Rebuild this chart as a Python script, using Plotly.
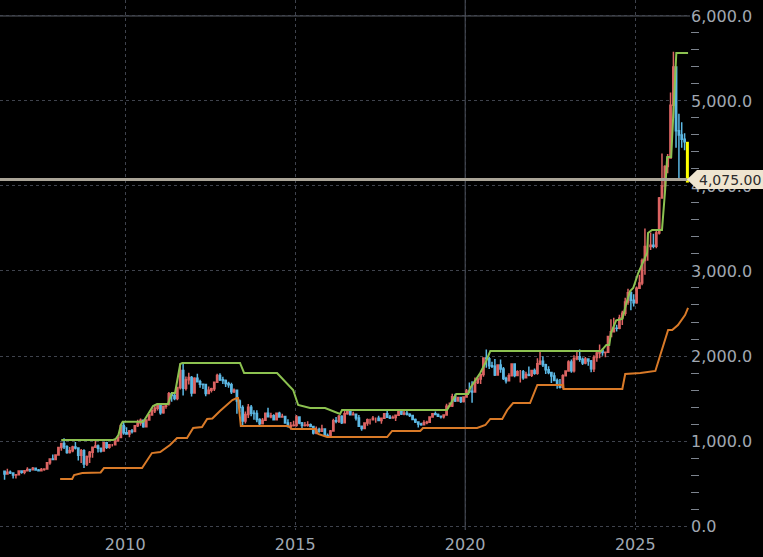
import pandas as pd
import plotly.graph_objects as go

# ---------------- DATA (monthly candles, Jun 2006 .. Jun 2026) ----------------
first_open = 643
close = [
    613, 632, 623, 599, 604, 646, 632,
    650, 665, 663, 680, 659, 650, 665, 672, 743, 789, 783, 834,
    923, 971, 933, 865, 885, 930, 918, 833, 884, 730, 815, 869,
    927, 942, 916, 883, 979, 927, 955, 955, 1001, 1040, 1182, 1096,
    1081, 1118, 1113, 1180, 1213, 1244, 1169, 1246, 1307, 1357, 1386, 1421,
    1332, 1410, 1439, 1556, 1536, 1500, 1628, 1828, 1620, 1722, 1746, 1566,
    1737, 1697, 1669, 1664, 1560, 1598, 1614, 1692, 1772, 1720, 1713, 1675,
    1663, 1578, 1597, 1472, 1393, 1234, 1312, 1396, 1327, 1323, 1253, 1202,
    1244, 1326, 1284, 1296, 1250, 1327, 1282, 1287, 1211, 1171, 1182, 1184,
    1283, 1213, 1183, 1184, 1190, 1172, 1095, 1134, 1115, 1142, 1065, 1061,
    1118, 1238, 1233, 1292, 1215, 1322, 1351, 1309, 1316, 1272, 1173, 1146,
    1211, 1249, 1249, 1268, 1268, 1242, 1269, 1321, 1280, 1271, 1275, 1303,
    1345, 1318, 1325, 1316, 1299, 1253, 1224, 1201, 1192, 1215, 1222, 1282,
    1321, 1313, 1292, 1284, 1305, 1409, 1413, 1520, 1472, 1513, 1464, 1517,
    1589, 1585, 1577, 1687, 1730, 1781, 1975, 1968, 1886, 1879, 1776, 1895,
    1847, 1734, 1708, 1769, 1907, 1770, 1814, 1814, 1743, 1783, 1774, 1829,
    1797, 1909, 1937, 1897, 1837, 1807, 1766, 1711, 1661, 1633, 1768, 1824,
    1928, 1827, 1969, 1990, 1962, 1919, 1965, 1940, 1849, 1983, 2036, 2063,
    2040, 2044, 2230, 2286, 2327, 2326, 2448, 2503, 2635, 2744, 2657, 2625,
    2798, 2858, 3124, 3289, 3289, 3303, 3290, 3448, 3858, 4000, 4230, 4330,
    4950, 5400, 4650, 4600, 4550, 4520,
]
high = [
    640, 675, 652, 633, 608, 648, 640,
    658, 690, 672, 693, 689, 672, 683, 677, 745, 795, 841, 837,
    933, 975, 1032, 950, 930, 943, 988, 915, 905, 904, 830, 881,
    936, 1006, 960, 914, 980, 990, 960, 966, 1024, 1070, 1195, 1227,
    1162, 1128, 1140, 1180, 1249, 1265, 1212, 1250, 1318, 1388, 1425, 1431,
    1424, 1412, 1447, 1575, 1577, 1556, 1632, 1913, 1920, 1760, 1804, 1764,
    1750, 1792, 1720, 1676, 1668, 1641, 1627, 1692, 1790, 1796, 1755, 1723,
    1696, 1684, 1617, 1600, 1488, 1420, 1348, 1434, 1424, 1361, 1362, 1267,
    1270, 1332, 1392, 1331, 1315, 1332, 1345, 1320, 1287, 1255, 1223, 1238,
    1307, 1290, 1224, 1224, 1232, 1205, 1175, 1170, 1157, 1191, 1142, 1088,
    1128, 1263, 1282, 1306, 1304, 1362, 1375, 1357, 1345, 1318, 1306, 1180,
    1220, 1264, 1261, 1295, 1275, 1296, 1270, 1326, 1357, 1306, 1299, 1306,
    1366, 1361, 1356, 1369, 1325, 1307, 1265, 1223, 1214, 1243, 1237, 1284,
    1326, 1347, 1324, 1300, 1306, 1439, 1452, 1555, 1557, 1518, 1516, 1525,
    1611, 1689, 1704, 1747, 1765, 1789, 1984, 2075, 1992, 1933, 1965, 1900,
    1959, 1872, 1755, 1798, 1916, 1905, 1832, 1834, 1834, 1814, 1877, 1831,
    1853, 1974, 2070, 1998, 1910, 1879, 1783, 1807, 1735, 1730, 1786, 1833,
    1949, 1959, 2009, 2048, 2077, 1983, 1987, 1950, 1953, 2009, 2052, 2135,
    2088, 2052, 2236, 2431, 2450, 2368, 2484, 2531, 2685, 2790, 2762, 2726,
    2817, 2956, 3148, 3500, 3435, 3452, 3439, 3489, 3871, 4381, 4245, 4375,
    5100, 5580, 5390, 4850, 4750, 4620,
]
low = [
    543, 606, 612, 560, 560, 612, 614,
    608, 646, 636, 663, 652, 642, 648, 650, 671, 722, 775, 774,
    835, 884, 905, 850, 853, 867, 900, 771, 740, 681, 705, 740,
    802, 920, 866, 865, 880, 905, 908, 935, 950, 991, 1040, 1075,
    1074, 1045, 1088, 1115, 1166, 1178, 1157, 1175, 1242, 1314, 1330, 1360,
    1308, 1322, 1380, 1417, 1462, 1478, 1480, 1605, 1534, 1593, 1665, 1523,
    1560, 1691, 1627, 1612, 1527, 1553, 1572, 1589, 1684, 1705, 1672, 1635,
    1626, 1554, 1564, 1321, 1338, 1180, 1207, 1270, 1290, 1251, 1221, 1182,
    1202, 1240, 1277, 1268, 1240, 1241, 1282, 1273, 1206, 1160, 1131, 1170,
    1168, 1198, 1142, 1170, 1169, 1163, 1077, 1080, 1098, 1114, 1052, 1046,
    1062, 1110, 1208, 1212, 1199, 1208, 1310, 1302, 1302, 1241, 1170, 1122,
    1146, 1180, 1195, 1241, 1214, 1236, 1204, 1266, 1271, 1260, 1264, 1236,
    1303, 1307, 1303, 1301, 1282, 1246, 1211, 1160, 1180, 1182, 1196, 1221,
    1276, 1310, 1281, 1266, 1266, 1296, 1400, 1400, 1459, 1461, 1446, 1454,
    1517, 1563, 1451, 1568, 1670, 1671, 1757, 1863, 1848, 1860, 1765, 1775,
    1802, 1717, 1677, 1755, 1765, 1750, 1761, 1687, 1721, 1746, 1761, 1753,
    1780, 1780, 1895, 1872, 1787, 1784, 1681, 1710, 1615, 1617, 1618, 1764,
    1823, 1804, 1805, 1950, 1932, 1893, 1903, 1885, 1810, 1811, 1931, 1973,
    2002, 1984, 2039, 2229, 2277, 2287, 2316, 2364, 2472, 2604, 2537, 2583,
    2614, 2833, 2833, 2957, 3121, 3247, 3268, 3268, 3430, 3886, 3930, 4150,
    4330, 4800, 4450, 4090, 4450, 4420,
]
# current (last) bar, drawn in yellow
last_date = "2026-07-15"
last_open, last_low, last_price = 4520, 4040, 4075

# upper band (2-year highest high) breakpoints
upper_dates = ["2008-02-14", "2009-08-25", "2009-09-20", "2009-10-20", "2009-11-18", "2009-12-05",
               "2010-07-15", "2010-08-08", "2010-10-27", "2010-12-10", "2011-04-05", "2011-05-18",
               "2011-06-20", "2011-08-15", "2011-09-06", "2013-05-18", "2013-07-01", "2014-06-20",
               "2014-12-10", "2015-02-02", "2015-06-10", "2015-11-18", "2016-04-27", "2016-05-18",
               "2019-06-20", "2019-09-27", "2020-02-02", "2020-02-25", "2020-06-10", "2020-08-05",
               "2020-09-27", "2024-01-01", "2024-02-25", "2024-03-28", "2024-04-15", "2024-06-10",
               "2024-08-15", "2024-09-27", "2024-11-07", "2024-12-10", "2025-02-02", "2025-05-08",
               "2025-05-18", "2025-07-01", "2025-10-15", "2025-11-18", "2025-12-10", "2026-01-22",
               "2026-02-14", "2026-03-18", "2026-07-22"]
upper_vals = [1012, 1012, 1024, 1070, 1195, 1227,
              1227, 1270, 1412, 1435, 1435, 1565,
              1565, 1906, 1918, 1918, 1800, 1800,
              1600, 1424, 1388, 1388, 1318, 1365,
              1365, 1553, 1553, 1624, 1800, 1918,
              2060, 2060, 2130, 2130, 2270, 2420,
              2435, 2620, 2765, 2800, 2976, 3212,
              3447, 3482, 3482, 3953, 4341, 4341,
              4929, 5565, 5565]

# lower band (2-year lowest low) breakpoints
lower_dates = ["2008-02-02", "2008-06-10", "2008-07-01", "2008-09-27", "2009-04-12", "2009-05-18",
               "2010-07-01", "2010-10-15", "2011-01-12", "2011-04-27", "2011-07-12", "2011-10-27",
               "2012-01-01", "2012-04-05", "2012-05-30", "2012-07-25", "2012-10-15", "2013-01-01",
               "2013-02-25", "2013-04-15", "2013-04-27", "2013-05-27", "2014-10-15", "2014-11-28",
               "2015-08-05", "2015-09-05", "2015-12-10", "2017-09-15", "2017-11-07", "2018-09-05",
               "2018-10-05", "2020-05-08", "2020-08-05", "2020-09-27", "2021-02-02", "2021-03-28",
               "2021-05-30", "2021-11-28", "2022-02-14", "2022-11-18", "2022-11-22", "2024-08-15",
               "2024-09-15", "2025-02-25", "2025-08-05", "2025-09-27", "2025-12-20", "2026-02-02",
               "2026-04-05", "2026-06-20", "2026-07-22"]
lower_vals = [553, 553, 600, 624, 630, 682,
              682, 858, 870, 953, 1035, 1035,
              1153, 1165, 1259, 1265, 1353, 1424,
              1482, 1506, 1506, 1176, 1176, 1141,
              1141, 1082, 1047, 1047, 1118, 1118,
              1153, 1153, 1188, 1259, 1259, 1365,
              1447, 1447, 1659, 1659, 1612, 1612,
              1788, 1800, 1824, 2012, 2306, 2306,
              2365, 2482, 2565]

year_ticks = ["2010-01-01", "2015-01-01", "2020-01-01", "2025-01-01"]

# ---------------- FIGURE ----------------
dates = pd.date_range("2006-06-01", periods=len(close), freq="MS") + pd.Timedelta(days=14)
opens = [first_open] + close[:-1]

RED = "#dc6462"
BLUE = "#5cb8e4"
GREEN = "#8cc150"
ORANGE = "#d97a28"
GRID = "#3f434d"
AXIS_TXT = "#a0a8b2"
FONT = "DejaVu Sans"

fig = go.Figure()
fig.add_trace(go.Candlestick(
    x=dates, open=opens, high=high, low=low, close=close,
    increasing=dict(line=dict(color=RED, width=1.5), fillcolor=RED),
    decreasing=dict(line=dict(color=BLUE, width=1.5), fillcolor=BLUE),
    whiskerwidth=0, showlegend=False, hoverinfo="skip",
))
fig.add_trace(go.Scatter(x=pd.to_datetime(lower_dates), y=lower_vals, mode="lines",
                         line=dict(color=ORANGE, width=2), showlegend=False, hoverinfo="skip"))
fig.add_trace(go.Scatter(x=pd.to_datetime(upper_dates), y=upper_vals, mode="lines",
                         line=dict(color=GREEN, width=2), showlegend=False, hoverinfo="skip"))
fig.add_trace(go.Scatter(x=[last_date, last_date], y=[last_open, last_low], mode="lines",
                         line=dict(color="#ffff00", width=3), showlegend=False, hoverinfo="skip"))

# price line and label
fig.add_shape(type="line", xref="paper", x0=0, x1=0.996, yref="y", y0=last_price, y1=last_price,
              line=dict(color="#aaa497", width=3), layer="above")
# solid 2020 line and top line
fig.add_shape(type="line", xref="x", x0="2020-01-01", x1="2020-01-01", yref="paper", y0=0, y1=1,
              line=dict(color="#4f5460", width=1), layer="below")
fig.add_shape(type="line", xref="paper", x0=0, x1=1, yref="y", y0=6000, y1=6000,
              line=dict(color="#5a5e66", width=1), layer="below")

W, H = 763, 557
ML, MR, MT, MB = 0, 73, 0, 27
pw = W - ML - MR
ylo, yhi = -47, 6188
ph = H - MT - MB
upp = (yhi - ylo) / ph  # data units per pixel
hh = 9.5 * upp
xa = (pw - 3) / pw
xb = (pw + 7) / pw
xc = (W - ML) / pw
path = (f"M {xa},{last_price} L {xb},{last_price + hh} L {xc},{last_price + hh} "
        f"L {xc},{last_price - hh} L {xb},{last_price - hh} Z")
fig.add_shape(type="path", xref="paper", yref="y", path=path,
              fillcolor="#efe5d0", line=dict(width=0), layer="above")
fig.add_annotation(x=(xb + xc) / 2, xref="paper", y=last_price, yref="y", text="4,075.00",
                   showarrow=False, font=dict(family=FONT, size=14, color="#2b2b2b"),
                   xanchor="center", yanchor="middle")

fig.update_layout(
    width=W, height=H, margin=dict(l=ML, r=MR, t=MT, b=MB),
    paper_bgcolor="#000000", plot_bgcolor="#000000",
    font=dict(family=FONT, size=16, color=AXIS_TXT),
    showlegend=False,
    xaxis=dict(type="date", range=["2006-04-27", "2026-08-12"],
               tickvals=pd.to_datetime(year_ticks), tickformat="%Y",
               showgrid=True, gridcolor=GRID, griddash="dot", gridwidth=1,
               ticks="", showline=False, zeroline=False, ticklabelstandoff=3,
               rangeslider=dict(visible=False),
               tickfont=dict(family=FONT, size=16, color=AXIS_TXT)),
    yaxis=dict(side="right", range=[ylo, yhi], dtick=1000, tick0=0, tickformat=",.1f",
               showgrid=True, gridcolor=GRID, griddash="dot", gridwidth=1,
               ticks="", showline=False, zeroline=False,
               minor=dict(dtick=200, ticks="outside", ticklen=8, tickcolor="#7d848e",
                          tickwidth=1, showgrid=False),
               tickfont=dict(family=FONT, size=16, color=AXIS_TXT)),
)

fig.write_html("out.html")
